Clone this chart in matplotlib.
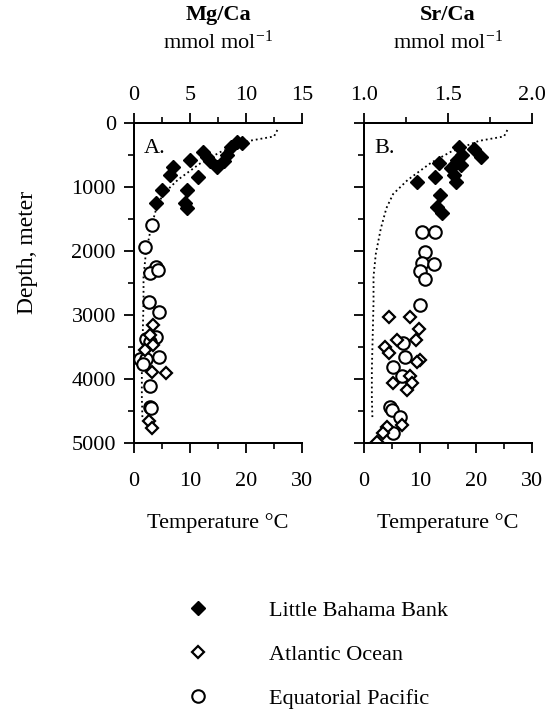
import matplotlib
matplotlib.use("Agg")
import matplotlib.pyplot as plt
from matplotlib.ticker import MultipleLocator

plt.rcParams['font.family'] = ['Liberation Serif', 'DejaVu Serif']
plt.rcParams['mathtext.default'] = 'regular'
plt.rcParams['axes.linewidth'] = 1.4

# temperature profile (dotted line), same in both panels
temp_prof = [25.6, 25.0, 20.5, 15.5, 12.0, 9.5, 7.8, 5.2, 4.0, 3.0, 2.1, 1.7, 1.7, 1.55, 1.4, 1.4, 1.5]
dep_prof = [110, 210, 280, 450, 620, 780, 890, 1110, 1330, 1650, 2050, 2400, 2800, 3340, 3860, 4280, 4600]

# Mg/Ca panel
mg_lbb = [9.2, 9.6, 8.7, 8.3, 8.0, 7.4, 6.8, 6.2, 6.5, 5.0, 3.5, 3.2, 5.7, 2.5, 4.7, 2.0, 4.55, 4.7]
dep_mg_lbb = [290, 320, 370, 500, 600, 680, 600, 450, 530, 580, 690, 810, 840, 1050, 1050, 1250, 1250, 1330]
mg_atl = [1.7, 1.4, 1.7, 1.0, 1.6, 2.9, 1.3, 1.6]
dep_mg_atl = [3160, 3310, 3470, 3550, 3890, 3900, 4650, 4760]
mg_pac = [1.6, 1.0, 2.0, 1.4, 2.1, 1.37, 2.2, 1.1, 2.0, 1.4, 0.5, 1.1, 2.2, 0.8, 1.4, 1.4, 1.5]
dep_mg_pac = [1590, 1930, 2250, 2340, 2300, 2790, 2960, 3370, 3340, 3420, 3680, 3680, 3660, 3760, 4110, 4430, 4450]

# Sr/Ca panel
sr_lbb = [1.565, 1.655, 1.695, 1.585, 1.555, 1.575, 1.445, 1.515, 1.425, 1.545, 1.315, 1.535, 1.455, 1.435, 1.465]
dep_sr_lbb = [370, 400, 530, 500, 580, 660, 630, 710, 840, 920, 920, 810, 1130, 1310, 1410]
sr_atl = [1.15, 1.275, 1.33, 1.31, 1.195, 1.125, 1.15, 1.335, 1.315, 1.275, 1.17, 1.285, 1.255, 1.225, 1.135, 1.115, 1.08]
dep_sr_atl = [3030, 3030, 3220, 3390, 3390, 3500, 3600, 3710, 3730, 3950, 4070, 4070, 4170, 4720, 4750, 4850, 4980]
sr_pac = [1.345, 1.425, 1.365, 1.345, 1.415, 1.335, 1.365, 1.335, 1.235, 1.245, 1.175, 1.225, 1.155, 1.165, 1.215, 1.175]
dep_sr_pac = [1700, 1700, 2010, 2190, 2210, 2320, 2430, 2840, 3440, 3650, 3810, 3960, 4430, 4480, 4590, 4850]

fig = plt.figure(figsize=(5.49, 7.11), dpi=100)
W, H = 549.0, 711.0


def make_panel(left_px, ratio_lim, ratio_major, panel_label, show_depth_labels):
    ax = fig.add_axes([left_px / W, 1 - 443 / H, 168 / W, 320 / H])
    ax.set_xlim(0, 30)
    ax.set_ylim(5000, 0)
    ax.spines['right'].set_visible(False)
    ax.xaxis.set_major_locator(MultipleLocator(10))
    ax.xaxis.set_minor_locator(MultipleLocator(5))
    ax.yaxis.set_major_locator(MultipleLocator(1000))
    ax.yaxis.set_minor_locator(MultipleLocator(500))
    ax.tick_params(which='major', length=7, width=1.3, labelsize=16, direction='out')
    ax.tick_params(which='minor', length=4, width=1.2, direction='out')
    ax.tick_params(axis='x', pad=14)
    ax.tick_params(axis='y', pad=6, labelleft=show_depth_labels)
    ax.set_xlabel('Temperature °C', fontsize=16, labelpad=16)
    ax.plot(temp_prof, dep_prof, color='black', linestyle=':', linewidth=1.3, zorder=2)
    ax.text(0.06, 0.92, panel_label, transform=ax.transAxes, fontsize=16, va='center')

    top = ax.twiny()
    top.set_xlim(*ratio_lim)
    top.spines['right'].set_visible(False)
    top.xaxis.set_major_locator(MultipleLocator(ratio_major))
    top.xaxis.set_minor_locator(MultipleLocator(ratio_major / 2))
    top.tick_params(which='major', length=7, width=1.3, labelsize=16, pad=6)
    top.tick_params(which='minor', length=4, width=1.2)
    return top


ax_a = make_panel(134, (0, 15), 5, 'A.', True)
ax_b = make_panel(364, (1.0, 2.0), 0.5, 'B.', False)
ax_b.xaxis.set_major_formatter(matplotlib.ticker.FormatStrFormatter('%.1f'))

lbb_kw = dict(marker='D', markersize=7, color='black', markerfacecolor='black', linestyle='none')
atl_kw = dict(marker='D', markersize=6, color='black', markerfacecolor='white', markeredgewidth=1.6, linestyle='none')
pac_kw = dict(marker='o', markersize=9, color='black', markerfacecolor='white', markeredgewidth=1.5, linestyle='none')

h_pac, = ax_a.plot(mg_pac, dep_mg_pac, **pac_kw)
h_atl, = ax_a.plot(mg_atl, dep_mg_atl, **atl_kw)
h_lbb, = ax_a.plot(mg_lbb, dep_mg_lbb, **lbb_kw)
ax_b.plot(sr_pac, dep_sr_pac, **pac_kw)
ax_b.plot(sr_atl, dep_sr_atl, **atl_kw)
ax_b.plot(sr_lbb, dep_sr_lbb, **lbb_kw)

fig.text(218 / W, 1 - 15 / H, 'Mg/Ca', fontsize=16, fontweight='bold', ha='center', va='center')
fig.text(218 / W, 1 - 42 / H, 'mmol mol$^{-1}$', fontsize=16, ha='center', va='center')
fig.text(448 / W, 1 - 15 / H, 'Sr/Ca', fontsize=16, fontweight='bold', ha='center', va='center')
fig.text(448 / W, 1 - 42 / H, 'mmol mol$^{-1}$', fontsize=16, ha='center', va='center')
fig.text(28 / W, 1 - 252 / H, 'Depth, meter', fontsize=17, rotation=90, ha='center', va='center')

fig.legend([h_lbb, h_atl, h_pac],
           ['Little Bahama Bank', 'Atlantic Ocean', 'Equatorial Pacific'],
           loc='upper left', bbox_to_anchor=(176 / W, 1 - 600 / H),
           frameon=False, fontsize=16, handlelength=2.0, handletextpad=2.2,
           labelspacing=1.06, borderpad=0, borderaxespad=0)

fig.savefig('out.png', dpi=100)
